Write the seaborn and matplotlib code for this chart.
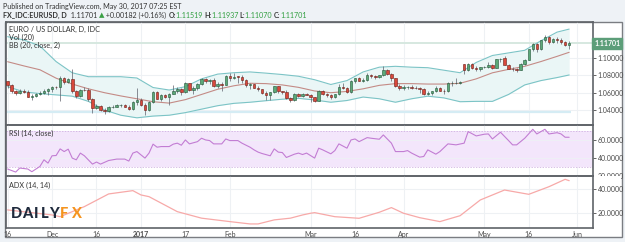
import matplotlib
matplotlib.use("Agg")
import matplotlib.pyplot as plt
import matplotlib.transforms as mtransforms
from matplotlib.patches import Rectangle
import numpy as np
import pandas as pd
import seaborn as sns

# =========================
# DATA
# =========================

dates = pd.bdate_range("2016-11-16", "2017-05-30")

opens = [1.0730, 1.0685, 1.0618, 1.0592, 1.0625, 1.0612, 1.0555, 1.0565, 1.0582, 1.0597,
         1.0622, 1.0645, 1.0668, 1.0662, 1.0765, 1.0725, 1.0758, 1.0615, 1.0560, 1.0635,
         1.0630, 1.0530, 1.0420, 1.0450, 1.0400, 1.0385, 1.0430, 1.0435, 1.0455, 1.0458,
         1.0440, 1.0410, 1.0492, 1.0520, 1.0460, 1.0405, 1.0490, 1.0605, 1.0530, 1.0575,
         1.0555, 1.0590, 1.0615, 1.0645, 1.0605, 1.0710, 1.0635, 1.0660, 1.0700, 1.0760,
         1.0730, 1.0745, 1.0680, 1.0695, 1.0690, 1.0795, 1.0765, 1.0785, 1.0782, 1.0750,
         1.0685, 1.0700, 1.0660, 1.0640, 1.0600, 1.0575, 1.0605, 1.0675, 1.0615, 1.0612,
         1.0540, 1.0515, 1.0585, 1.0560, 1.0580, 1.0575, 1.0545, 1.0505, 1.0620, 1.0585,
         1.0570, 1.0545, 1.0580, 1.0670, 1.0660, 1.0605, 1.0735, 1.0765, 1.0740, 1.0745,
         1.0810, 1.0795, 1.0785, 1.0800, 1.0865, 1.0815, 1.0765, 1.0675, 1.0650, 1.0665,
         1.0670, 1.0660, 1.0650, 1.0640, 1.0590, 1.0600, 1.0615, 1.0660, 1.0620, 1.0615,
         1.0710, 1.0715, 1.0718, 1.0930, 1.0860, 1.0930, 1.0890, 1.0875, 1.0895, 1.0900,
         1.0925, 1.0885, 1.0985, 1.1000, 1.0925, 1.0875, 1.0870, 1.0865, 1.0935, 1.0980,
         1.1100, 1.1160, 1.1100, 1.1205, 1.1245, 1.1185, 1.1215, 1.1210, 1.1185, 1.11519]

highs = [1.0740, 1.0695, 1.0630, 1.0640, 1.0640, 1.0630, 1.0580, 1.0600, 1.0620, 1.0640,
         1.0660, 1.0680, 1.0680, 1.0796, 1.0780, 1.0770, 1.0874, 1.0630, 1.0645, 1.0670,
         1.0660, 1.0535, 1.0475, 1.0460, 1.0420, 1.0445, 1.0460, 1.0475, 1.0465, 1.0470,
         1.0460, 1.0500, 1.0650, 1.0540, 1.0485, 1.0500, 1.0615, 1.0620, 1.0590, 1.0590,
         1.0600, 1.0685, 1.0665, 1.0660, 1.0720, 1.0715, 1.0680, 1.0710, 1.0775, 1.0770,
         1.0760, 1.0775, 1.0720, 1.0725, 1.0810, 1.0830, 1.0830, 1.0795, 1.0805, 1.0755,
         1.0710, 1.0705, 1.0675, 1.0645, 1.0620, 1.0610, 1.0680, 1.0680, 1.0625, 1.0630,
         1.0550, 1.0600, 1.0600, 1.0600, 1.0600, 1.0590, 1.0555, 1.0630, 1.0630, 1.0595,
         1.0580, 1.0585, 1.0700, 1.0710, 1.0665, 1.0745, 1.0775, 1.0780, 1.0775, 1.0825,
         1.0820, 1.0810, 1.0810, 1.0905, 1.0875, 1.0825, 1.0775, 1.0695, 1.0690, 1.0680,
         1.0685, 1.0680, 1.0670, 1.0650, 1.0620, 1.0625, 1.0680, 1.0665, 1.0640, 1.0725,
         1.0735, 1.0775, 1.0740, 1.0937, 1.0940, 1.0945, 1.0910, 1.0900, 1.0910, 1.0950,
         1.0935, 1.0990, 1.1000, 1.1025, 1.0935, 1.0895, 1.0885, 1.0940, 1.0990, 1.1105,
         1.1170, 1.1175, 1.1210, 1.1265, 1.1255, 1.1230, 1.1245, 1.1230, 1.1195, 1.11937]

lows = [1.0660, 1.0600, 1.0570, 1.0585, 1.0595, 1.0545, 1.0520, 1.0545, 1.0570, 1.0590,
        1.0575, 1.0610, 1.0645, 1.0505, 1.0700, 1.0710, 1.0600, 1.0540, 1.0550, 1.0615,
        1.0510, 1.0366, 1.0410, 1.0385, 1.0352, 1.0375, 1.0420, 1.0430, 1.0440, 1.0430,
        1.0400, 1.0405, 1.0455, 1.0450, 1.0340, 1.0390, 1.0480, 1.0525, 1.0510, 1.0540,
        1.0455, 1.0580, 1.0600, 1.0575, 1.0600, 1.0625, 1.0585, 1.0630, 1.0690, 1.0710,
        1.0700, 1.0670, 1.0660, 1.0620, 1.0685, 1.0740, 1.0755, 1.0715, 1.0710, 1.0670,
        1.0645, 1.0655, 1.0620, 1.0590, 1.0520, 1.0520, 1.0600, 1.0600, 1.0590, 1.0525,
        1.0495, 1.0510, 1.0550, 1.0555, 1.0570, 1.0495, 1.0495, 1.0500, 1.0570, 1.0550,
        1.0525, 1.0535, 1.0575, 1.0640, 1.0600, 1.0600, 1.0710, 1.0730, 1.0720, 1.0730,
        1.0775, 1.0760, 1.0770, 1.0790, 1.0800, 1.0740, 1.0670, 1.0635, 1.0630, 1.0640,
        1.0645, 1.0640, 1.0600, 1.0570, 1.0570, 1.0570, 1.0605, 1.0615, 1.0580, 1.0605,
        1.0680, 1.0700, 1.0700, 1.0820, 1.0850, 1.0875, 1.0850, 1.0850, 1.0880, 1.0890,
        1.0875, 1.0880, 1.0950, 1.0920, 1.0870, 1.0855, 1.0840, 1.0860, 1.0925, 1.0975,
        1.1085, 1.1075, 1.1095, 1.1190, 1.1165, 1.1170, 1.1180, 1.1160, 1.1135, 1.11070]

closes = [1.0685, 1.0618, 1.0592, 1.0625, 1.0612, 1.0555, 1.0565, 1.0582, 1.0597, 1.0622,
          1.0645, 1.0668, 1.0662, 1.0765, 1.0725, 1.0758, 1.0615, 1.0560, 1.0635, 1.0630,
          1.0530, 1.0420, 1.0450, 1.0400, 1.0385, 1.0430, 1.0435, 1.0455, 1.0458, 1.0440,
          1.0410, 1.0492, 1.0520, 1.0460, 1.0405, 1.0490, 1.0605, 1.0530, 1.0575, 1.0555,
          1.0590, 1.0615, 1.0645, 1.0605, 1.0710, 1.0635, 1.0660, 1.0700, 1.0760, 1.0730,
          1.0745, 1.0680, 1.0695, 1.0690, 1.0795, 1.0765, 1.0785, 1.0782, 1.0750, 1.0685,
          1.0700, 1.0660, 1.0640, 1.0600, 1.0575, 1.0605, 1.0675, 1.0615, 1.0612, 1.0540,
          1.0515, 1.0585, 1.0560, 1.0580, 1.0575, 1.0545, 1.0505, 1.0620, 1.0585, 1.0570,
          1.0545, 1.0580, 1.0670, 1.0660, 1.0605, 1.0735, 1.0765, 1.0740, 1.0745, 1.0810,
          1.0795, 1.0785, 1.0800, 1.0865, 1.0815, 1.0765, 1.0675, 1.0650, 1.0665, 1.0670,
          1.0660, 1.0650, 1.0640, 1.0590, 1.0600, 1.0615, 1.0660, 1.0620, 1.0615, 1.0710,
          1.0715, 1.0718, 1.0725, 1.0860, 1.0930, 1.0890, 1.0875, 1.0895, 1.0900, 1.0925,
          1.0885, 1.0985, 1.0995, 1.0925, 1.0875, 1.0870, 1.0865, 1.0935, 1.0980, 1.1100,
          1.1160, 1.1100, 1.1205, 1.1245, 1.1185, 1.1215, 1.1210, 1.1185, 1.1152, 1.11701]

# Bollinger bands (20, close, 2), sampled every few bars
bb_bar = [0, 4, 8, 12, 16, 20, 24, 28, 32, 36, 40, 44, 48, 52, 56, 60, 64, 68,
          72, 76, 80, 84, 88, 92, 96, 100, 104, 108, 112, 116, 120, 124, 128, 132, 136, 139]
bb_upper = [1.1247, 1.1210, 1.1140, 1.0960, 1.0830, 1.0785, 1.0785, 1.0785, 1.0770,
            1.0660, 1.0631, 1.0670, 1.0760, 1.0815, 1.0831, 1.0840, 1.0826, 1.0810,
            1.0790, 1.0750, 1.0695, 1.0740, 1.0840, 1.0895, 1.0905, 1.0895, 1.0889,
            1.0860, 1.0831, 1.0950, 1.1030, 1.1060, 1.1090, 1.1200, 1.1300, 1.1335]
bb_mid = [1.0958, 1.0910, 1.0865, 1.0768, 1.0700, 1.0645, 1.0600, 1.0563, 1.0530,
          1.0496, 1.0480, 1.0520, 1.0580, 1.0640, 1.0680, 1.0709, 1.0705, 1.0690,
          1.0662, 1.0620, 1.0600, 1.0615, 1.0645, 1.0685, 1.0705, 1.0705, 1.0700,
          1.0700, 1.0709, 1.0760, 1.0830, 1.0870, 1.0905, 1.0960, 1.1020, 1.1067]
bb_lower = [1.0670, 1.0610, 1.0590, 1.0575, 1.0560, 1.0500, 1.0400, 1.0340, 1.0310,
            1.0330, 1.0340, 1.0370, 1.0410, 1.0450, 1.0477, 1.0490, 1.0508, 1.0525,
            1.0535, 1.0516, 1.0490, 1.0510, 1.0550, 1.0530, 1.0490, 1.0530, 1.0560,
            1.0540, 1.0496, 1.0500, 1.0500, 1.0580, 1.0690, 1.0740, 1.0775, 1.0805]

# RSI (14, close)
rsi_bar = [0, 2, 3, 5, 6, 8, 9, 10, 11, 12, 13, 14, 15, 16, 17, 18, 19, 21, 22, 23,
           25, 27, 29, 30, 31, 32, 34, 35, 36, 37, 38, 40, 41, 42, 43, 44, 45, 47, 48, 49,
           50, 51, 53, 54, 55, 57, 58, 60, 61, 62, 63, 65, 66, 67, 68, 69, 71, 72, 73, 74,
           76, 77, 78, 80, 81, 82, 84, 85, 86, 87, 89, 90, 92, 93, 95, 96, 98, 99, 100, 102,
           103, 104, 106, 107, 109, 111, 113, 114, 116, 118, 119, 120, 122, 124, 125, 126,
           128, 130, 131, 133, 134, 136, 137, 138, 139]
rsi_val = [27.8, 24.4, 28.9, 27.8, 24.8, 30.7, 38.1, 34.4, 42.6, 42.9, 50.3, 47.3, 50.0,
           40.0, 38.1, 45.6, 42.6, 33.3, 35.6, 33.3, 37.3, 38.9, 38.9, 36.7, 45.6, 47.3,
           40.0, 45.6, 55.6, 52.2, 52.9, 52.9, 55.6, 56.7, 54.4, 60.3, 55.9, 58.4, 62.2,
           60.3, 59.6, 55.9, 55.9, 61.4, 59.6, 59.6, 56.7, 52.2, 49.2, 46.7, 45.1, 42.6,
           50.3, 46.7, 46.2, 40.7, 44.4, 45.6, 44.0, 45.6, 40.0, 51.1, 49.2, 44.8, 48.4,
           55.9, 51.1, 60.3, 61.4, 58.4, 62.9, 62.2, 61.1, 65.9, 56.7, 47.3, 47.3, 48.4,
           45.6, 41.1, 41.8, 49.2, 44.4, 47.3, 55.9, 54.8, 56.7, 69.6, 64.8, 66.7, 67.0,
           61.4, 68.9, 59.6, 54.8, 54.8, 62.2, 72.2, 67.0, 72.2, 67.0, 68.4, 67.0, 63.3, 63.3]

# ADX (14, 14)
adx_bar = [0, 11, 13, 19, 25, 31, 33, 35, 42, 48, 55, 60, 62, 66, 70, 73, 75, 76,
           81, 87, 92, 95, 98, 102, 107, 112, 117, 123, 129, 134, 138, 139]
adx_val = [22.7, 18.6, 17.2, 25.4, 35.7, 38.4, 34.9, 33.5, 21.3, 16.0, 13.2, 11.3,
           11.3, 14.6, 16.0, 18.6, 20.0, 20.5, 17.2, 15.9, 20.8, 24.6, 20.0, 16.4,
           13.2, 18.0, 30.8, 38.9, 35.4, 41.6, 47.6, 46.5]

tick_dates = ["2016-11-16", "2016-12-01", "2016-12-16", "2017-01-02", "2017-01-17",
              "2017-02-01", "2017-03-01", "2017-03-16", "2017-04-03", "2017-05-01",
              "2017-05-16", "2017-06-01"]
tick_labels = ["16", "Dec", "16", "2017", "17", "Feb", "Mar", "16", "Apr", "May", "16", "Jun"]

# =========================
# STYLE
# =========================

sns.set_style("white")
plt.rcParams['font.family'] = ['Lato', 'DejaVu Sans']

W, H = 625, 242
BG = "#eef2f6"
TXT = "#4a4a4a"
GRID = "#eef1f4"
FRAME = "#5f6368"


def rect(x0, y0, x1, y1):
    return [x0 / W, 1 - y1 / H, (x1 - x0) / W, (y1 - y0) / H]


fig = plt.figure(figsize=(W / 100, H / 100), dpi=100, facecolor=BG)
fig.patches.append(Rectangle((5 / W, 1 - 237 / H), 617 / W, 215 / H,
                             transform=fig.transFigure, facecolor="white",
                             edgecolor="#7a7d82", lw=1.0, zorder=-5))

ax_p = fig.add_axes(rect(6, 22, 593, 125))
ax_r = fig.add_axes(rect(6, 125, 593, 176), sharex=ax_p)
ax_a = fig.add_axes(rect(6, 176, 593, 228), sharex=ax_p)

x = np.arange(len(closes))
all_days = pd.bdate_range("2016-11-16", "2017-06-09")
tick_pos = [all_days.get_loc(pd.Timestamp(d)) for d in tick_dates]

for ax in (ax_p, ax_r, ax_a):
    ax.set_facecolor("none")
    for s in ax.spines.values():
        s.set_color(FRAME)
        s.set_linewidth(1.2)
    ax.yaxis.tick_right()
    ax.tick_params(axis="y", labelsize=5, colors=TXT, length=2, width=0.6, pad=1.5)
    ax.tick_params(axis="x", length=0)
    for t in tick_pos:
        ax.axvline(t, color=GRID, lw=0.8, zorder=0)

ax_p.set_xlim(-0.4, 144.9)

# =========================
# Price pane
# =========================

o = np.array(opens)
h = np.array(highs)
l = np.array(lows)
c = np.array(closes)
up = c >= o

for yv in [1.04, 1.06, 1.08, 1.10]:
    ax_p.axhline(yv, color=GRID, lw=0.8, zorder=0)

# faint volume baseline and last price line
ax_p.hlines(1.0378, x[0] - 0.5, x[-1] + 0.5, color="#d5ecf4", lw=1.6, zorder=1)
ax_p.axhline(c[-1], color="#d6e8e0", lw=1.4, zorder=1)

ax_p.fill_between(bb_bar, bb_lower, bb_upper, color="#eaf6f6", zorder=1, lw=0)
sns.lineplot(x=bb_bar, y=bb_upper, ax=ax_p, color="#7cc4c6", lw=0.8, zorder=2)
sns.lineplot(x=bb_bar, y=bb_lower, ax=ax_p, color="#7cc4c6", lw=0.8, zorder=2)
sns.lineplot(x=bb_bar, y=bb_mid, ax=ax_p, color="#c48b86", lw=0.8, zorder=2)

ax_p.vlines(x, l, h, color="#5d606b", lw=0.5, zorder=3)
body = np.where(np.abs(c - o) < 0.0003, 0.0003, c - o)
ax_p.bar(x[up], body[up], bottom=o[up], width=0.62, color="#5ba978",
         edgecolor="#225437", lw=0.4, zorder=4)
ax_p.bar(x[~up], body[~up], bottom=o[~up], width=0.62, color="#d9483c",
         edgecolor="#6b1d15", lw=0.4, zorder=4)

ax_p.set_ylim(1.0227, 1.1417)
ax_p.set_yticks([1.04, 1.06, 1.08, 1.10])
ax_p.set_yticklabels(["%.5f" % v for v in [1.04, 1.06, 1.08, 1.10]])

tr = mtransforms.blended_transform_factory(ax_p.transAxes, ax_p.transData)
ax_p.text(1.002, c[-1], "%.5f" % c[-1], transform=tr, fontsize=5, color="white",
          va="center", ha="left", fontweight="bold",
          bbox=dict(boxstyle="square,pad=0.25", fc="#5c9e79", ec="#5c9e79"))

ax_p.text(0.005, 0.93, "EURO / US DOLLAR, D, IDC", transform=ax_p.transAxes,
          fontsize=5.2, color="#333333", va="center")
ax_p.text(0.005, 0.85, "Vol (20)", transform=ax_p.transAxes,
          fontsize=5.2, color="#333333", va="center")
ax_p.text(0.005, 0.77, "BB (20, close, 2)", transform=ax_p.transAxes,
          fontsize=5.2, color="#333333", va="center")

# =========================
# RSI pane
# =========================

ax_r.axhspan(30, 70, color="#f3e6fb", zorder=0, lw=0)
ax_r.axhline(70, color="#c9a6dc", lw=0.5, ls=(0, (2, 2)))
ax_r.axhline(30, color="#c9a6dc", lw=0.5, ls=(0, (2, 2)))
for yv in [20, 40, 60]:
    ax_r.axhline(yv, color=GRID, lw=0.6, zorder=0)
sns.lineplot(x=rsi_bar, y=rsi_val, ax=ax_r, color="#c27dd3", lw=0.8, zorder=3)
ax_r.set_ylim(20.3, 77)
ax_r.set_yticks([20, 40, 60])
ax_r.set_yticklabels(["20.0000", "40.0000", "60.0000"])
ax_r.text(0.005, 0.84, "RSI (14, close)", transform=ax_r.transAxes,
          fontsize=5.2, color="#333333", va="center")

# =========================
# ADX pane
# =========================

for yv in [20, 40]:
    ax_a.axhline(yv, color=GRID, lw=0.8, zorder=0)
sns.lineplot(x=adx_bar, y=adx_val, ax=ax_a, color="#f7a9a8", lw=0.9, zorder=3)
ax_a.set_ylim(8.0, 50.3)
ax_a.set_yticks([20, 40])
ax_a.set_yticklabels(["20.0000", "40.0000"])
ax_a.text(0.005, 0.82, "ADX (14, 14)", transform=ax_a.transAxes,
          fontsize=5.2, color="#333333", va="center")

ax_a.set_xticks(tick_pos)
ax_a.set_xticklabels(tick_labels)
ax_a.tick_params(axis="x", labelsize=5, colors=TXT, length=1.5, width=0.6,
                 direction="out", pad=0.8)
for lab in ax_a.get_xticklabels():
    if lab.get_text() == "2017":
        lab.set_fontweight("bold")
ax_p.tick_params(axis="x", labelbottom=False)
ax_r.tick_params(axis="x", labelbottom=False)

for a in (ax_p, ax_r, ax_a):
    a.set_xlabel("")
    a.set_ylabel("")

# cut the lower half of the RSI "20.0000" label like the original
fig.patches.append(Rectangle((594 / W, 1 - 180 / H), 27 / W, 3.6 / H,
                             transform=fig.transFigure, facecolor="white",
                             edgecolor="none", zorder=5))

# DailyFX logo
for ch, px, col in [("D", 16, "#1f2a3c"), ("A", 27.5, "#1f2a3c"), ("I", 36, "#1f2a3c"),
                    ("L", 45, "#1f2a3c"), ("Y", 54, "#1f2a3c"),
                    ("F", 64, "#f5941f"), ("X", 76, "#f5941f")]:
    fig.text(px / W, 1 - 214 / H, ch, fontsize=10.5, fontweight="black",
             color=col, ha="center", va="center", zorder=6)

# =========================
# Header
# =========================

fig.text(3 / W, 1 - 6 / H, "Published on TradingView.com, May 30, 2017 07:25 EST",
         fontsize=5.1, color="#333333", va="center")

parts = [("FX_IDC:EURUSD, D", "#333333", "bold"),
         ("  1.11701 ", "#333333", "normal"),
         ("\u25b2", "#3aa045", "normal"),
         (" +0.00182 (+0.16%) ", "#333333", "normal"),
         ("O:", "#333333", "bold"),
         ("1.11519 ", "#2f9e3f", "normal"),
         ("H:", "#333333", "bold"),
         ("1.11937 ", "#2f9e3f", "normal"),
         ("L:", "#333333", "bold"),
         ("1.11070 ", "#2f9e3f", "normal"),
         ("C:", "#333333", "bold"),
         ("1.11701", "#2f9e3f", "normal")]
renderer = fig.canvas.get_renderer()
xp = 3
for s, col, wgt in parts:
    t = fig.text(xp / W, 1 - 15 / H, s, fontsize=5.1, color=col, fontweight=wgt,
                 va="center")
    xp += t.get_window_extent(renderer).width

fig.savefig("out.png", dpi=100, facecolor=BG)
